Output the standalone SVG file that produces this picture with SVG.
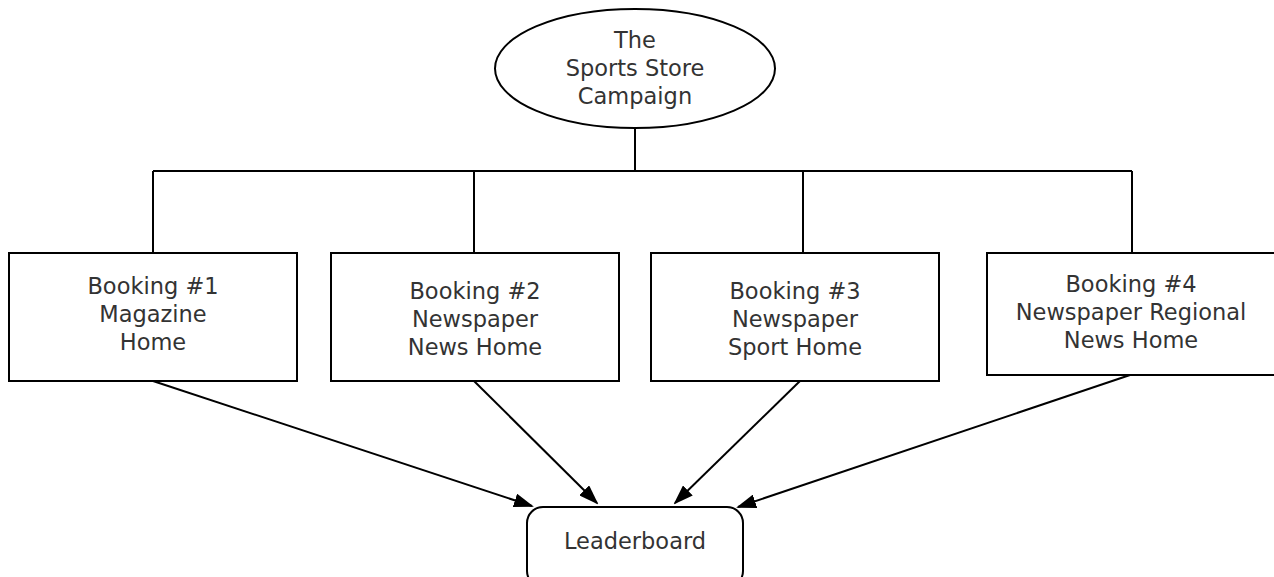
<svg xmlns="http://www.w3.org/2000/svg" width="1274" height="577" viewBox="0 0 1274 577">
<style>
.shape{fill:#fff;stroke:#000;stroke-width:2}
.line{fill:none;stroke:#000;stroke-width:2}
text{font-family:"DejaVu Sans","Open Sans",sans-serif;font-size:22.5px;fill:#333;text-anchor:middle}
</style>
<defs>
<marker id="arrL" markerWidth="20" markerHeight="14" refX="18" refY="7" orient="auto" markerUnits="userSpaceOnUse" viewBox="0 0 20 14">
<path d="M0,0 L20,7 L0,14 z" fill="#000"/>
</marker>
</defs>
<rect width="1274" height="577" fill="#fff"/>
<g id="connectors">
<path class="line" d="M635,128 V171 M153,171 H1132 M153,171 V253 M474,171 V253 M803,171 V253 M1132,171 V253"/>
<line class="line" x1="153" y1="381" x2="532" y2="506" marker-end="url(#arrL)"/>
<line class="line" x1="474" y1="381" x2="597" y2="503" marker-end="url(#arrL)"/>
<line class="line" x1="800" y1="381" x2="675" y2="503" marker-end="url(#arrL)"/>
<line class="line" x1="1130" y1="375" x2="738" y2="507" marker-end="url(#arrL)"/>
</g>
<g id="campaign">
<ellipse class="shape" cx="635" cy="68.5" rx="140" ry="59.5"/>
<text x="635" y="48">The</text>
<text x="635" y="76">Sports Store</text>
<text x="635" y="104">Campaign</text>
</g>
<g id="booking1">
<rect class="shape" x="9" y="253" width="288" height="128"/>
<text x="153" y="294">Booking #1</text>
<text x="153" y="322">Magazine</text>
<text x="153" y="350">Home</text>
</g>
<g id="booking2">
<rect class="shape" x="331" y="253" width="288" height="128"/>
<text x="475" y="299">Booking #2</text>
<text x="475" y="327">Newspaper</text>
<text x="475" y="355">News Home</text>
</g>
<g id="booking3">
<rect class="shape" x="651" y="253" width="288" height="128"/>
<text x="795" y="299">Booking #3</text>
<text x="795" y="327">Newspaper</text>
<text x="795" y="355">Sport Home</text>
</g>
<g id="booking4">
<rect class="shape" x="987" y="253" width="288" height="122"/>
<text x="1131" y="292">Booking #4</text>
<text x="1131" y="320">Newspaper Regional</text>
<text x="1131" y="348">News Home</text>
</g>
<g id="leaderboard">
<rect class="shape" x="527" y="507" width="216" height="80" rx="16"/>
<text x="635" y="549">Leaderboard</text>
</g>
</svg>
